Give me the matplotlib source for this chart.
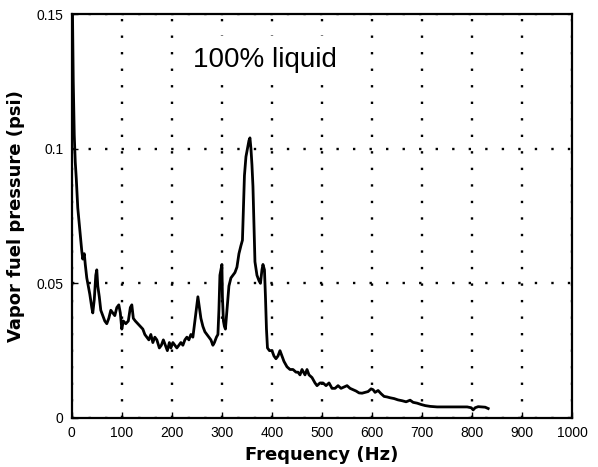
import matplotlib
matplotlib.use("Agg")
import matplotlib.pyplot as plt

freq = [0, 1.5, 3, 5, 7, 9, 12, 15, 17, 20, 22, 25, 27, 30, 33, 36, 40, 42, 45, 48,
        50, 52, 55, 58, 62, 66, 70, 74, 78, 82, 86, 90, 94, 97, 100, 103, 108, 113, 117, 120,
        123, 127, 132, 137, 142, 146, 150, 154, 158, 162, 166, 170, 175, 179, 183, 187, 191, 195, 198, 202,
        206, 210, 214, 218, 222, 226, 230, 234, 238, 242, 246, 250, 252, 255, 258, 262, 266, 270, 274, 278,
        282, 285, 289, 292, 294, 296, 298, 300, 301, 303, 305, 307, 310, 314, 318, 322, 326, 330, 334, 338,
        341, 343, 345, 348, 351, 354, 356, 358, 360, 362, 364, 366, 370, 374, 377, 380, 382, 385, 387, 389,
        391, 395, 400, 404, 408, 412, 416, 420, 424, 430, 436, 442, 448, 452, 456, 460, 466, 470, 474, 480,
        486, 490, 496, 502, 508, 514, 520, 526, 532, 538, 544, 550, 556, 562, 568, 574, 580, 586, 592, 598,
        602, 606, 612, 618, 624, 630, 636, 644, 652, 660, 668, 676, 682, 690, 698, 706, 716, 730, 750, 770,
        790, 798, 802, 806, 812, 820, 826, 832]

pressure = [0.165, 0.15, 0.125, 0.105, 0.095, 0.089, 0.078, 0.072, 0.068, 0.062, 0.059, 0.061, 0.057, 0.052, 0.049, 0.046, 0.041, 0.039, 0.044, 0.053,
            0.055, 0.049, 0.045, 0.040, 0.038, 0.036, 0.035, 0.037, 0.040, 0.039, 0.038, 0.041, 0.042, 0.039, 0.033, 0.036, 0.035, 0.036, 0.041, 0.042,
            0.037, 0.036, 0.035, 0.034, 0.033, 0.031, 0.030, 0.029, 0.031, 0.028, 0.030, 0.029, 0.026, 0.027, 0.029, 0.027, 0.025, 0.028, 0.026, 0.028,
            0.027, 0.026, 0.027, 0.028, 0.027, 0.029, 0.030, 0.029, 0.031, 0.030, 0.036, 0.042, 0.045, 0.041, 0.037, 0.034, 0.032, 0.031, 0.030, 0.029,
            0.027, 0.028, 0.030, 0.031, 0.040, 0.053, 0.055, 0.057, 0.045, 0.036, 0.034, 0.033, 0.040, 0.049, 0.052, 0.053, 0.054, 0.056, 0.061, 0.064,
            0.066, 0.078, 0.090, 0.097, 0.100, 0.103, 0.104, 0.100, 0.094, 0.086, 0.072, 0.058, 0.053, 0.051, 0.050, 0.055, 0.057, 0.055, 0.045, 0.033,
            0.026, 0.025, 0.025, 0.023, 0.022, 0.023, 0.025, 0.023, 0.021, 0.019, 0.018, 0.018, 0.017, 0.017, 0.016, 0.018, 0.016, 0.018, 0.016, 0.015,
            0.013, 0.012, 0.013, 0.013, 0.012, 0.013, 0.011, 0.011, 0.012, 0.011, 0.0115, 0.012, 0.011, 0.0105, 0.010, 0.0093, 0.0092, 0.0095, 0.0098, 0.0108,
            0.0105, 0.0095, 0.0102, 0.0090, 0.0080, 0.0078, 0.0075, 0.0072, 0.0067, 0.0064, 0.0060, 0.0066, 0.0058, 0.0055, 0.0050, 0.0046, 0.0043, 0.0041, 0.0041, 0.0041,
            0.0041, 0.0038, 0.0030, 0.0038, 0.0042, 0.0041, 0.0040, 0.0035]

xticks = [0, 100, 200, 300, 400, 500, 600, 700, 800, 900, 1000]
yticks = [0, 0.05, 0.1, 0.15]
yticklabels = ["0", "0.05", "0.1", "0.15"]
annotation = "100% liquid"

plt.rcParams['font.family'] = ['Liberation Sans', 'DejaVu Sans']

fig = plt.figure(figsize=(5.98, 4.67), dpi=100)
ax = fig.add_axes([0.120, 0.105, 0.837, 0.865])

ax.plot(freq, pressure, color='black', lw=2.0, solid_joinstyle='round')

ax.set_xlim(0, 1000)
ax.set_ylim(0, 0.15)
ax.set_xticks(xticks)
ax.set_xticklabels([str(t) for t in xticks], fontsize=10)
ax.set_yticks(yticks)
ax.set_yticklabels(yticklabels, fontsize=10)
ax.tick_params(direction='in', length=4, width=1, pad=6)

ax.grid(True, color='black', linestyle=(0, (1, 6)), linewidth=1.7)
for s in ax.spines.values():
    s.set_linewidth(1.6)

ax.set_xlabel("Frequency (Hz)", fontsize=13, fontweight='bold', family='DejaVu Sans', labelpad=4)
ax.set_ylabel("Vapor fuel pressure (psi)", fontsize=13, fontweight='bold', family='DejaVu Sans', labelpad=8)

ax.text(386, 0.1328, annotation, fontsize=20, ha='center', va='center', zorder=5,
        bbox=dict(boxstyle='square,pad=0.4', facecolor='white', edgecolor='none'))

fig.savefig("out.png", dpi=100)
